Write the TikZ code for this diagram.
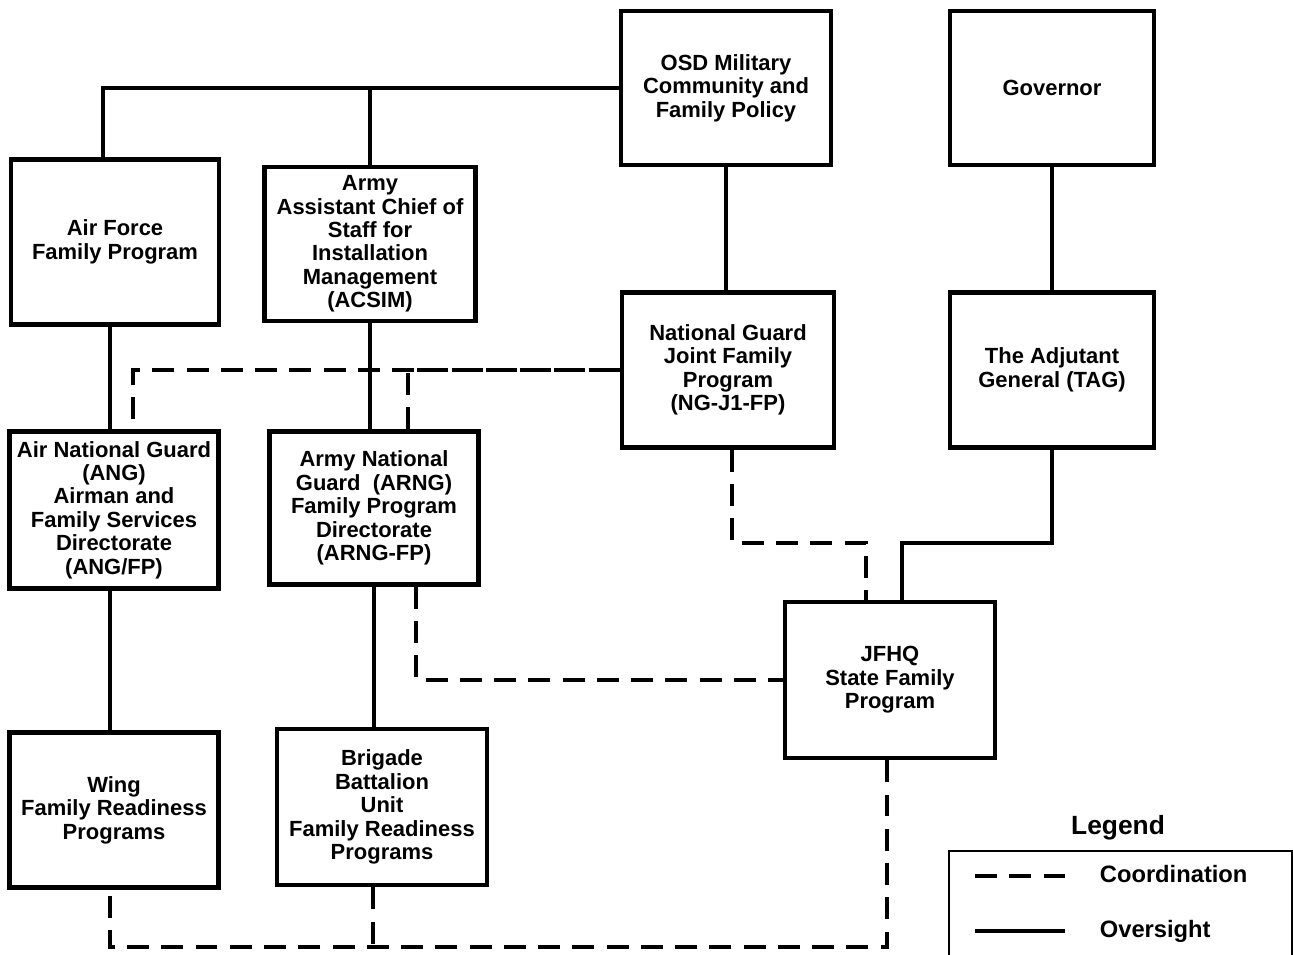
\documentclass[tikz,border=0pt]{standalone}
\usepackage{fontspec}
\setmainfont{Liberation Sans}
\begin{document}
\begin{tikzpicture}[
    x=0.02cm, y=-0.02cm,
    line width=2.3pt,
    box/.style={rectangle, draw, line width=2.6pt, align=center, inner sep=1pt,
      minimum width=4.2cm, minimum height=3.1cm,
      font=\bfseries\fontsize{12.5}{13.3}\selectfont},
    coord/.style={dash pattern=on 12.5pt off 7pt},
    legtext/.style={anchor=west, font=\bfseries\fontsize{13.5}{14}\selectfont}
  ]
  \useasboundingbox (0,0) rectangle (1293,955);
  % top row
  \node[box, minimum height=3.08cm] (osd) at (726,88) {OSD Military\\Community and\\Family Policy};
  \node[box, minimum width=4.08cm, minimum height=3.08cm] (gov) at (1052,88) {Governor};
  \node[box, minimum width=4.16cm, minimum height=3.3cm] (af) at (115,242) {Air Force\\Family Program};
  \node[box, minimum width=4.22cm, minimum height=3.08cm] (acsim) at (370,244) {Army\\Assistant Chief of\\Staff for\\Installation\\Management\\(ACSIM)};
  % middle row
  \node[box, minimum width=4.24cm] (ngj) at (728,370) {National Guard\\Joint Family\\Program\\(NG-J1-FP)};
  \node[box, minimum width=4.08cm] (tag) at (1052,370) {The Adjutant\\General (TAG)};
  \node[box, minimum width=4.18cm, minimum height=3.14cm] (ang) at (114,510) {Air National Guard\\(ANG)\\Airman and\\Family Services\\Directorate\\(ANG/FP)};
  \node[box, minimum width=4.18cm, minimum height=3.06cm] (arng) at (374,508) {Army National\\Guard\ \ (ARNG)\\Family Program\\Directorate\\(ARNG-FP)};
  \node[box, minimum height=3.12cm] (jfhq) at (890,680) {JFHQ\\State Family\\Program};
  % bottom row
  \node[box, minimum width=4.18cm] (wing) at (114,810) {Wing\\Family Readiness\\Programs};
  \node[box, minimum height=3.12cm] (brig) at (382,807) {Brigade\\Battalion\\Unit\\Family Readiness\\Programs};

  % oversight
  \draw (osd.west) -| ([xshift=-0.24cm]af.north);
  \draw (acsim.north |- osd.west) -- (acsim.north);
  \draw (osd.south) -- (osd.south |- ngj.north);
  \draw (gov.south) -- (gov.south |- tag.north);
  \draw ([xshift=-0.1cm]af.south) -- ([xshift=-0.1cm]af.south |- ang.north);
  \draw (acsim.south) -- (acsim.south |- arng.north);
  \draw ([xshift=-0.08cm]ang.south) -- ([xshift=-0.08cm]ang.south |- wing.north);
  \draw (arng.south) -- (arng.south |- brig.north);
  \draw (tag.south) -- ++(0,93) -| ([xshift=0.24cm]jfhq.north);

  % coordination
  \draw[coord] (ngj.west) -| ([xshift=0.38cm]ang.north);
  \draw[coord] ([xshift=0.68cm]arng.north) |- (ngj.west);
  \draw[coord] ([xshift=0.08cm]ngj.south) -- ++(0,93) -| ([xshift=-0.48cm]jfhq.north);
  \draw[coord] ([xshift=0.84cm]arng.south) |- (jfhq.west);
  \draw[coord] ([xshift=-0.06cm]jfhq.south) -- ++(0,187) coordinate (bus) -| ([xshift=-0.08cm]wing.south);
  \draw[coord] ([xshift=-0.18cm]brig.south) -- ([xshift=-0.18cm]brig.south |- bus);

  % legend
  \node[font=\bfseries\fontsize{15}{15}\selectfont] (legtitle) at (1118,828) {Legend};
  \node[draw, line width=1.1pt, anchor=north west, minimum width=6.86cm, minimum height=3cm] (legbox) at (948,850) {};
  \coordinate (lc1) at (975,876);
  \coordinate (lc2) at (1065,876);
  \coordinate (lo1) at (975,931);
  \coordinate (lo2) at (1065,931);
  \draw[coord] (lc1) -- (lc2);
  \draw (lo1) -- (lo2);
  \node[legtext] (lcoord) at (1092,874) {Coordination};
  \node[legtext] (lover) at (1092,931) {Oversight};
\end{tikzpicture}
\end{document}
